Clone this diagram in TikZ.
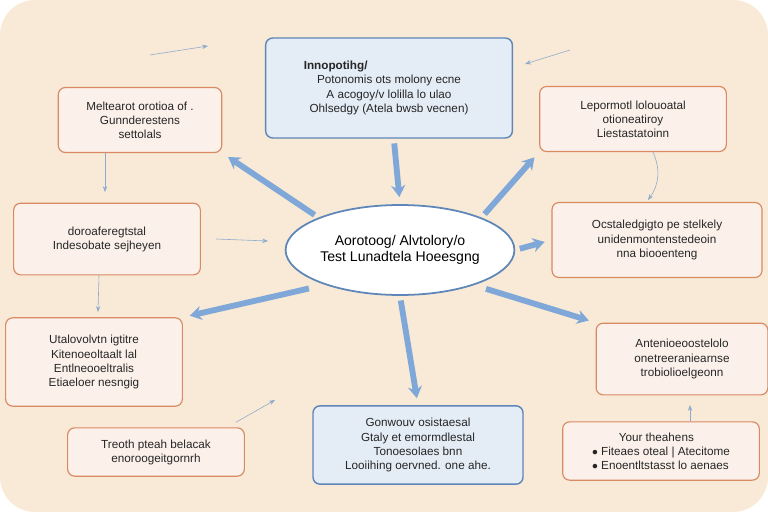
\documentclass[tikz,border=0pt]{standalone}
\usepackage{fontspec}
\setmainfont{Liberation Sans}
\usepackage{tikz}
\usetikzlibrary{positioning,arrows.meta,shapes.geometric}
\definecolor{cream}{HTML}{F8EAD6}
\definecolor{boxorange}{HTML}{D98A62}
\definecolor{boxblue}{HTML}{5E86B8}
\definecolor{fillblue}{HTML}{E4ECF5}
\definecolor{fillorange}{HTML}{FBF1EA}
\definecolor{arrblue}{HTML}{7FA8D8}
\tikzset{
  obox/.style={draw=boxorange, line width=1pt, fill=fillorange, rounded corners=6pt,
    align=center, font=\normalsize, inner sep=3pt, text=black!85},
  bbox/.style={draw=boxblue, line width=1.2pt, fill=fillblue, rounded corners=6pt,
    align=center, font=\normalsize, inner sep=3pt, text=black!85},
  fat/.style={-{Stealth[length=10pt,width=12pt]}, line width=5pt, draw=arrblue,
    shorten <=4pt, shorten >=6pt},
  thin/.style={-{Stealth[length=5pt]}, line width=0.5pt, draw=boxblue!70},
}
\begin{document}
\begin{tikzpicture}[x=0.03cm,y=-0.03cm]
  \fill[cream, rounded corners=30pt] (0,0) rectangle (768,512);
  \useasboundingbox (0,0) rectangle (768,512);

  \node[ellipse, draw=boxblue, line width=1.5pt, fill=white, minimum width=6cm,
    minimum height=2.7cm, align=center, font=\large, inner sep=1pt] (hub) at (400,250)
    {Aorotoog/ Alvtolory/o\\ Test Lunadtela Hoeesgng};

  \node[bbox, minimum width=7.4cm, minimum height=3cm] (top) at (389,88)
    {\textbf{Innopotihg/}\hspace*{3.2cm}\\ Potonomis ots molony ecne\\ A acogoy/v lolilla lo ulao\\ Ohlsedgy (Atela bwsb vecnen)};
  \node[obox, minimum width=4.9cm, minimum height=1.95cm] (lt) at (140,120)
    {Meltearot orotioa of .\\ Gunnderestens\\ settolals};
  \node[obox, minimum width=5.6cm, minimum height=1.95cm] (rt) at (633,119)
    {Lepormotl lolouoatal\\ otioneatiroy\\ Liestastatoinn};
  \node[obox, minimum width=5.6cm, minimum height=2.15cm] (lm) at (107,239)
    {doroaferegtstal\\ Indesobate sejheyen};
  \node[obox, minimum width=6.3cm, minimum height=2.25cm] (rm) at (657,240)
    {Ocstaledgigto pe stelkely\\ unidenmontenstedeoin\\ nna biooenteng};
  \node[obox, minimum width=5.3cm, minimum height=2.65cm] (ll) at (94,362)
    {Utalovolvtn igtitre\\ Kitenoeoltaalt lal\\ Entlneooeltralis\\ Etiaeloer nesngig};
  \node[obox, minimum width=5.15cm, minimum height=2.15cm] (rl) at (682,359)
    {Antenioeoostelolo\\ onetreeraniearnse\\ trobiolioelgeonn};
  \node[bbox, minimum width=6.3cm, minimum height=2.35cm] (bc) at (418,445)
    {Gonwouv osistaesal\\ Gtaly et emormdlestal\\ Tonoesolaes bnn\\ Looiihing oervned. one ahe.};
  \node[obox, minimum width=5.3cm, minimum height=1.45cm] (bl) at (156,452)
    {Treoth pteah belacak\\ enoroogeitgornrh};
  \node[obox, minimum width=5.9cm, minimum height=1.75cm, align=left] (br) at (661,451)
    {\hspace*{0.8cm}Your theahens\\ $\bullet$ Fiteaes oteal | Atecitome\\ $\bullet$ Enoentltstasst lo aenaes};

  % fat arrows from and to the hub
  \draw[fat] (top) -- (hub.north);
  \draw[fat] (hub.north west) -- (lt.south east);
  \draw[fat] (hub.south west) ++(-5,5) -- (ll.north east);
  \draw[fat] (hub.south) -- (bc.north);
  \draw[fat] (hub.east) -- (rm.west);
  \draw[fat] (hub.south east) ++(0,5) -- (rl.north west);
  \draw[fat] (hub.north east) -- (rt.south west);

  % thin arrows
  \coordinate (c1) at (150,55);
  \coordinate (c2) at (570,50);
  \draw[thin] (c1) -- (208,46);
  \draw[thin] (c2) -- (525,64);
  \draw[thin] (lt.south) ++(-35,0) -- (105,192);
  \draw[thin] (lm.south) ++(-8,0) -- (98,312);
  \draw[thin] (rt.south) ++(20,0) to[bend left] (648,200);
  \draw[thin] (br.north) ++(29,0) -- (690,405);
  \draw[thin] (bl.north) ++(80,-5) -- (275,400);
  \draw[thin] (lm.east) ++(15,0) -- (268,241);
\end{tikzpicture}
\end{document}
